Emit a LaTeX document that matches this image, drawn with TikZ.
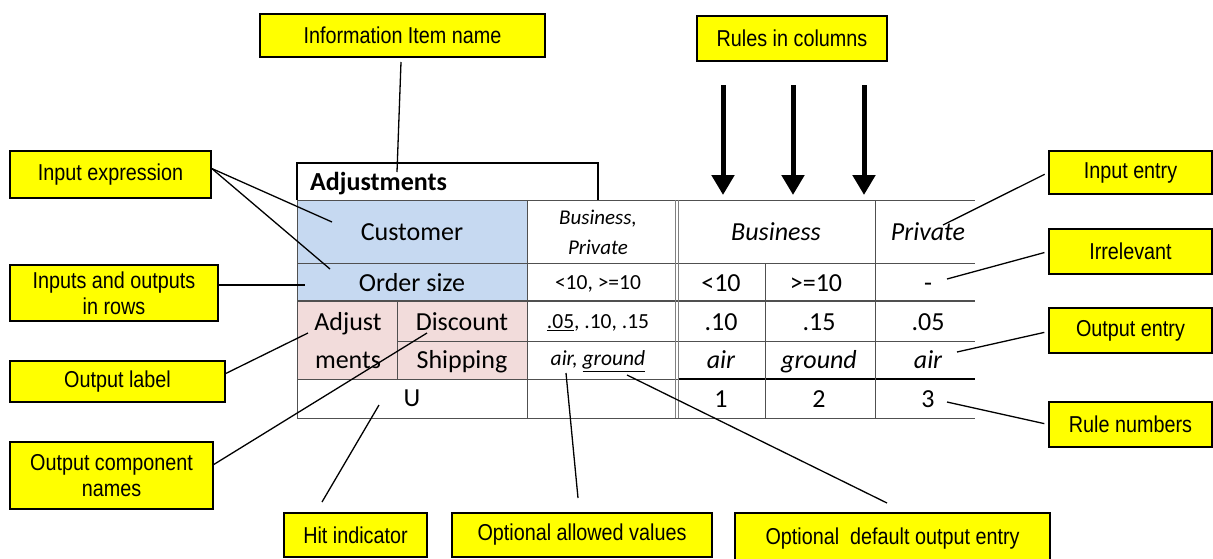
\documentclass[tikz,border=0pt]{standalone}
\usepackage{fontspec}
\setmainfont{Liberation Sans}[FakeStretch=0.86]
\newfontfamily\tabfont{Carlito}
\usetikzlibrary{arrows.meta}
\definecolor{callyellow}{RGB}{255,255,0}
\definecolor{inblue}{RGB}{198,217,241}
\definecolor{outpink}{RGB}{242,220,219}
\definecolor{gridgray}{RGB}{80,80,80}
\begin{document}
\begin{tikzpicture}[x=1pt,y=-1pt,
  callout/.style={draw=black, line width=1.5pt, fill=callyellow, inner sep=0pt, align=center, font=\fontsize{23}{26}\selectfont},
  lead/.style={line width=1.3pt},
  gridline/.style={draw=gridgray, line width=1pt},
  cell/.style={inner sep=0pt, text height=16.7pt, text depth=0pt, font=\tabfont\fontsize{26}{28}\selectfont},
  icell/.style={cell, font=\tabfont\itshape\fontsize{26}{28}\selectfont},
  smallcell/.style={inner sep=0pt, text height=13.8pt, text depth=0pt, font=\tabfont\fontsize{21.5}{24}\selectfont},
  ismallcell/.style={smallcell, font=\tabfont\itshape\fontsize{21.5}{24}\selectfont},
  bigarrow/.style={line width=5pt, -{Triangle[width=22pt,length=20pt]}}]
\useasboundingbox (0,0) rectangle (1213,558);

% ---------- table fills ----------
\fill[inblue] (297,200) rectangle (527,301);
\fill[outpink] (297,301) rectangle (527,379);
% title box
\draw[line width=1.5pt] (297,200) -- (297,163) -- (598,163) -- (598,200);
% horizontal lines
\draw[gridline] (297,200) -- (975,200);
\draw[gridline] (297,263) -- (975,263);
\draw[gridline, line width=1.6pt] (297,301) -- (975,301);
\draw[gridline] (397,341) -- (975,341);
\draw[gridline] (297,379) -- (678,379);
\draw[line width=2pt] (678,379) -- (975,379);
\draw[gridline] (297,418) -- (975,418);
% vertical lines
\draw[gridline] (297,200) -- (297,418);
\draw[gridline] (397,301) -- (397,379);
\draw[gridline] (527,200) -- (527,418);
\draw[gridline, gray] (675,200) -- (675,418);
\draw[gridline, gray] (678.5,200) -- (678.5,418);
\draw[gridline] (765,263) -- (765,418);
\draw[gridline] (875,200) -- (875,418);

% ---------- table texts ----------
\node[cell, font=\tabfont\bfseries\fontsize{26}{28}\selectfont, anchor=west] (tname) at (310,182) {Adjustments};
\node[cell] (tcust) at (412,232) {Customer};
\node[cell] (tord) at (412,283) {Order size};
\node[ismallcell, font=\tabfont\itshape\fontsize{21}{24}\selectfont] (tbp1) at (598,218) {Business,};
\node[ismallcell, font=\tabfont\itshape\fontsize{21}{24}\selectfont] (tbp2) at (598,248) {Private};
\node[smallcell] (tordv) at (598,283) {<10, >=10};
\node[cell] (tadj1) at (348,322) {Adjust};
\node[cell] (tadj2) at (348,360) {ments};
\node[cell] (tdisc) at (462,322) {Discount};
\node[cell] (tship) at (462,360) {Shipping};
\node[smallcell] (tdiscv) at (598,322) {\underline{.05}, .10, .15};
\node[ismallcell] (tshipv) at (598,359) {air, \underline{ground}};
\node[cell] (thit) at (412,398) {U};
\node[icell] (r12) at (776,232) {Business};
\node[icell] (r3) at (928,232) {Private};
\node[cell] (o1) at (721,283) {<10};
\node[cell] (o2) at (816,283) {>=10};
\node[cell] (o3) at (928,283) {-};
\node[cell] (d1) at (721,322) {.10};
\node[cell] (d2) at (819,322) {.15};
\node[cell] (d3) at (928,322) {.05};
\node[icell] (s1) at (721,360) {air};
\node[icell] (s2) at (819,360) {ground};
\node[icell] (s3) at (928,360) {air};
\node[cell] (n1) at (721,399) {1};
\node[cell] (n2) at (819,399) {2};
\node[cell] (n3) at (928,399) {3};

% ---------- callouts ----------
\node[callout, minimum width=285pt, minimum height=43pt] (info) at (402.5,35.5) {Information Item name};
\node[callout, minimum width=190pt, minimum height=45pt] (rules) at (792,38.5) {Rules in columns};
\node[callout, minimum width=201pt, minimum height=47pt] (inexpr) at (110.5,174.5) {Input expression};
\node[callout, minimum width=208pt, minimum height=56pt] (inrows) at (114,293) {Inputs and outputs\\in rows};
\node[callout, minimum width=215pt, minimum height=41pt] (outlabel) at (117.5,381.5) {Output label};
\node[callout, minimum width=203pt, minimum height=67pt] (outcomp) at (111.5,475.5) {Output component\\names};
\node[callout, minimum width=143pt, minimum height=44pt] (hit) at (355.5,535) {Hit indicator};
\node[callout, minimum width=260pt, minimum height=44pt] (allowed) at (582,535) {Optional allowed values};
\node[callout, minimum width=315pt, minimum height=52pt] (default) at (892.5,539) {Optional\ \ default output entry};
\node[callout, minimum width=163pt, minimum height=43pt] (inentry) at (1130.5,172.5) {Input entry};
\node[callout, minimum width=163pt, minimum height=45pt] (irrel) at (1130.5,251.5) {Irrelevant};
\node[callout, minimum width=163pt, minimum height=45pt] (outentry) at (1130.5,330.5) {Output entry};
\node[callout, minimum width=163pt, minimum height=45pt] (rulenum) at (1130.5,424.5) {Rule numbers};

% ---------- leader end points ----------
\coordinate (pName) at (397,172);
\coordinate (pCust) at (332,222);
\coordinate (pOrd) at (330,269);
\coordinate (pRows) at (305,285);
\coordinate (pAdj) at (308,333);
\coordinate (pDisc) at (427,333);
\coordinate (pHit) at (379,405);
\coordinate (pAir) at (566,373);
\coordinate (pGround) at (627,375);
\coordinate (pPriv) at (943,225);
\coordinate (pDash) at (947,279);
\coordinate (pAir3) at (957,352);
\coordinate (pThree) at (947,402);
\coordinate (hitS) at (322,502);
\coordinate (allowedS) at (578,498);
\coordinate (defaultS) at (887,503);
\coordinate (infoS) at (401,62);

% ---------- leaders ----------
\draw[lead] (infoS) -- (pName);
\draw[lead] ([yshift=6pt]inexpr.east) -- (pCust);
\draw[lead] ([yshift=6pt]inexpr.east) -- (pOrd);
\draw[lead] ([yshift=8pt]inrows.east) -- (pRows);
\draw[lead] ([yshift=8pt]outlabel.east) -- (pAdj);
\draw[lead] ([yshift=11pt]outcomp.east) -- (pDisc);
\draw[lead] (hitS) -- (pHit);
\draw[lead] (allowedS) -- (pAir);
\draw[lead] (defaultS) -- (pGround);
\draw[lead, shorten <=4pt] (inentry.west) -- (pPriv);
\draw[lead, shorten <=4pt] (irrel.west) -- (pDash);
\draw[lead, shorten <=4pt] ([yshift=-1pt]outentry.west) -- (pAir3);
\draw[lead, shorten <=4pt] (rulenum.west) -- (pThree);

% ---------- rule arrows ----------
\coordinate (a1s) at (723,85);  \coordinate (a1e) at (723,195);
\coordinate (a2s) at (793,85);  \coordinate (a2e) at (793,195);
\coordinate (a3s) at (864,85);  \coordinate (a3e) at (864,195);
\draw[bigarrow] (a1s) -- (a1e);
\draw[bigarrow] (a2s) -- (a2e);
\draw[bigarrow] (a3s) -- (a3e);
\end{tikzpicture}
\end{document}
